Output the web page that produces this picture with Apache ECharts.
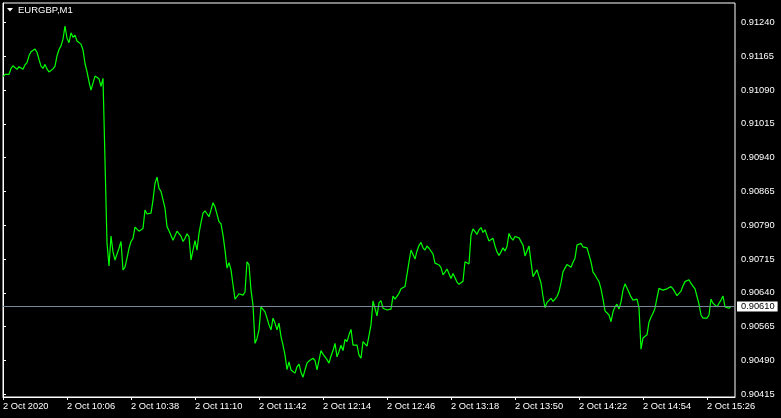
<!DOCTYPE html>
<html>
<head>
<meta charset="utf-8">
<script src="https://cdn.jsdelivr.net/npm/echarts@6/dist/echarts.min.js"></script>
<style>
html,body{margin:0;padding:0;background:#000;}
#chart{width:781px;height:418px;}
</style>
</head>
<body>
<div id="chart"></div>
<script>
// Symbol / timeframe
var symbolTitle = "EURGBP,M1";
// Minute-by-minute close prices, starting 2 Oct 2020 09:34 (one value per minute)
var prices = [
0.91120,0.91125,0.91125,0.91125,0.91138,0.91144,0.91144,0.91136,0.91142,0.91142,
0.91136,0.91146,0.91151,0.91166,0.91175,0.91179,0.91181,0.91174,0.91158,0.91143,
0.91138,0.91147,0.91137,0.91130,0.91133,0.91137,0.91143,0.91166,0.91180,0.91188,
0.91203,0.91232,0.91205,0.91195,0.91217,0.91207,0.91212,0.91199,0.91197,0.91192,
0.91179,0.91149,0.91131,0.91109,0.91090,0.91094,0.91121,0.91120,0.91115,0.91098,
0.91116,0.91117,0.90751,0.90700,0.90766,0.90731,0.90713,0.90709,0.90739,0.90754,
0.90691,0.90697,0.90717,0.90739,0.90754,0.90761,0.90786,0.90783,0.90777,0.90781,
0.90783,0.90824,0.90815,0.90815,0.90817,0.90846,0.90883,0.90897,0.90872,0.90865,
0.90868,0.90828,0.90787,0.90778,0.90780,0.90757,0.90761,0.90777,0.90778,0.90766,
0.90754,0.90761,0.90771,0.90765,0.90713,0.90735,0.90756,0.90735,0.90772,0.90796,
0.90817,0.90822,0.90820,0.90809,0.90824,0.90840,0.90831,0.90828,0.90798,0.90793,
0.90768,0.90735,0.90695,0.90707,0.90691,0.90658,0.90626,0.90632,0.90638,0.90639,
0.90635,0.90642,0.90709,0.90702,0.90646,0.90613,0.90528,0.90539,0.90558,0.90609,
0.90609,0.90598,0.90584,0.90569,0.90558,0.90584,0.90573,0.90558,0.90573,0.90543,
0.90524,0.90502,0.90470,0.90487,0.90469,0.90469,0.90462,0.90476,0.90482,0.90464,
0.90453,0.90469,0.90484,0.90489,0.90492,0.90495,0.90490,0.90469,0.90467,0.90512,
0.90504,0.90498,0.90492,0.90484,0.90500,0.90512,0.90528,0.90498,0.90510,0.90524,
0.90512,0.90537,0.90532,0.90547,0.90559,0.90524,0.90524,0.90524,0.90502,0.90495,
0.90532,0.90527,0.90522,0.90524,0.90569,0.90622,0.90618,0.90589,0.90618,0.90623,
0.90606,0.90602,0.90602,0.90606,0.90604,0.90633,0.90626,0.90626,0.90639,0.90649,
0.90649,0.90654,0.90681,0.90709,0.90735,0.90735,0.90715,0.90733,0.90745,0.90752,
0.90740,0.90735,0.90744,0.90739,0.90735,0.90726,0.90706,0.90709,0.90702,0.90696,
0.90680,0.90686,0.90693,0.90689,0.90672,0.90683,0.90680,0.90664,0.90659,0.90661,
0.90666,0.90709,0.90709,0.90704,0.90768,0.90782,0.90785,0.90770,0.90780,0.90785,
0.90774,0.90780,0.90767,0.90755,0.90755,0.90761,0.90744,0.90731,0.90723,0.90731,
0.90740,0.90733,0.90743,0.90772,0.90762,0.90757,0.90765,0.90766,0.90762,0.90762,
0.90746,0.90722,0.90724,0.90744,0.90709,0.90676,0.90675,0.90691,0.90676,0.90662,
0.90632,0.90607,0.90619,0.90617,0.90628,0.90621,0.90626,0.90632,0.90643,0.90662,
0.90687,0.90695,0.90703,0.90706,0.90697,0.90708,0.90717,0.90746,0.90748,0.90750,
0.90742,0.90740,0.90740,0.90737,0.90709,0.90686,0.90680,0.90672,0.90665,0.90649,
0.90626,0.90600,0.90597,0.90591,0.90576,0.90598,0.90609,0.90615,0.90604,0.90620,
0.90646,0.90660,0.90651,0.90650,0.90631,0.90624,0.90624,0.90626,0.90607,0.90515,
0.90540,0.90539,0.90547,0.90575,0.90586,0.90595,0.90606,0.90629,0.90650,0.90649,
0.90646,0.90649,0.90649,0.90652,0.90654,0.90649,0.90646,0.90634,0.90634,0.90644,
0.90656,0.90665,0.90668,0.90669,0.90661,0.90661,0.90649,0.90632,0.90615,0.90591,
0.90584,0.90580,0.90584,0.90591,0.90626,0.90617,0.90617,0.90609,0.90617,0.90624,
0.90633,0.90609,0.90607,0.90606,0.90610
];
// X axis: minute offsets of the time labels and their texts
var timeTickMinutes = [0,32,64,96,128,160,192,224,256,288,320,352];
var timeTickLabels = ["2 Oct 2020","2 Oct 10:06","2 Oct 10:38","2 Oct 11:10","2 Oct 11:42","2 Oct 12:14",
                      "2 Oct 12:46","2 Oct 13:18","2 Oct 13:50","2 Oct 14:22","2 Oct 14:54","2 Oct 15:26"];
var xMin = 0, xMax = 366;
// Y axis: price tick values and visible range
var priceTicks = [0.90415,0.90490,0.90565,0.90640,0.90715,0.90790,0.90865,0.90940,0.91015,0.91090,0.91165,0.91240];
var priceMin = 0.90409, priceMax = 0.912832;
var lastPrice = prices[prices.length - 1];

var FONT = "Liberation Sans";
var chart = echarts.init(document.getElementById('chart'), null, {renderer: 'canvas'});
var seriesData = prices.map(function (p, i) { return [i, p]; });

chart.setOption({
  animation: false,
  backgroundColor: '#000000',
  textStyle: {fontFamily: FONT},
  title: {
    text: symbolTitle,
    left: 18, top: 5, padding: 0,
    textStyle: {color: '#ffffff', fontSize: 9.5, fontWeight: 'normal', fontFamily: FONT}
  },
  graphic: [{
    type: 'polygon',
    shape: {points: [[7, 8], [13, 8], [10, 11.5]]},
    style: {fill: '#ffffff'}
  }],
  grid: {
    left: 3, right: 46, top: 3, bottom: 21,
    show: true, borderColor: '#ffffff', borderWidth: 1,
    backgroundColor: 'transparent', containLabel: false
  },
  xAxis: {
    type: 'value',
    min: xMin, max: xMax,
    axisLine: {show: true, lineStyle: {color: '#ffffff', width: 1}},
    axisTick: {show: true, length: 3, customValues: timeTickMinutes, lineStyle: {color: '#ffffff'}},
    splitLine: {show: false},
    axisLabel: {
      show: true,
      customValues: timeTickMinutes,
      color: '#ffffff', fontSize: 9.3, fontFamily: FONT,
      align: 'left', margin: 5,
      formatter: function (v) {
        var idx = timeTickMinutes.indexOf(Math.round(v));
        return idx >= 0 ? timeTickLabels[idx] : '';
      }
    }
  },
  yAxis: {
    type: 'value',
    position: 'right',
    min: priceMin, max: priceMax,
    axisLine: {show: true, lineStyle: {color: '#ffffff', width: 1}},
    axisTick: {show: true, length: 3, customValues: priceTicks, lineStyle: {color: '#ffffff'}},
    splitLine: {show: false},
    axisLabel: {
      show: true,
      customValues: priceTicks,
      color: '#ffffff', fontSize: 9.3, fontFamily: FONT,
      margin: 6,
      formatter: function (v) { return v.toFixed(5); }
    }
  },
  series: [{
    type: 'line',
    data: seriesData,
    showSymbol: false,
    symbol: 'none',
    clip: false,
    lineStyle: {color: '#00ff00', width: 1.2},
    itemStyle: {color: '#00ff00'},
    markLine: {
      silent: true,
      symbol: ['none', 'none'],
      animation: false,
      lineStyle: {color: '#778899', width: 1, type: 'solid'},
      label: {
        show: true,
        position: 'end',
        distance: 2,
        formatter: function () { return lastPrice.toFixed(5); },
        color: '#000000',
        backgroundColor: '#ffffff',
        fontSize: 9.3, fontFamily: FONT,
        padding: [1, 3, 0, 4]
      },
      data: [[{coord: [xMin, lastPrice]}, {coord: [xMax, lastPrice]}]]
    }
  }]
});
</script>
</body>
</html>
